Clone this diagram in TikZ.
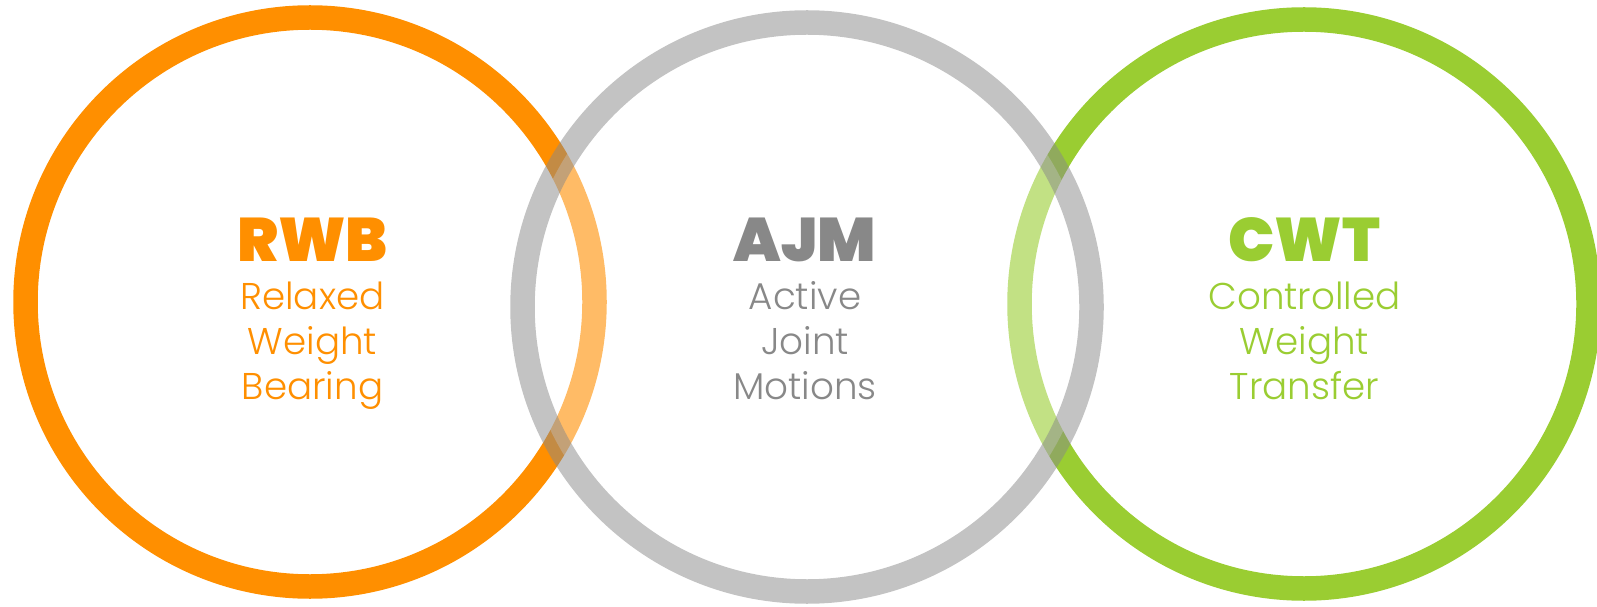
\documentclass[tikz,border=0pt]{standalone}
\usepackage{fontspec}
\usepackage{xcolor}
\newfontfamily\acrofont{Poppins Black}
\newfontfamily\wordfont{Poppins Light}
\definecolor{rwbcol}{RGB}{255,143,0}
\definecolor{ajmcol}{RGB}{136,136,136}
\definecolor{cwtcol}{RGB}{154,205,50}
\tikzset{
    ring/.style={line width=0.245cm},
    acro/.style={anchor=base, inner sep=0pt, font=\acrofont\fontsize{17.5}{20}\selectfont},
    word/.style={anchor=base, inner sep=0pt, font=\wordfont\fontsize{10.6}{12}\selectfont},
}

\begin{document}
\begin{tikzpicture}
    \useasboundingbox (0,0) rectangle (15.97,6.06);
    % outer rings
    \draw[ring, rwbcol] (3.10,3.04) circle (2.845);
    \draw[ring, cwtcol] (13.04,3.02) circle (2.845);
    % middle ring, washes out what it covers
    \fill[white, opacity=0.4] (8.07,2.99) circle (2.845);
    \draw[ring, ajmcol, draw opacity=0.5] (8.07,2.99) circle (2.845);

    \node[acro, rwbcol] (rwb) at (3.125,3.45) {RWB};
    \node[word, rwbcol] (rwb1) at (3.125,2.97) {Relaxed};
    \node[word, rwbcol] (rwb2) at (3.125,2.52) {Weight};
    \node[word, rwbcol] (rwb3) at (3.125,2.07) {Bearing};

    \node[acro, ajmcol] (ajm) at (8.05,3.45) {AJM};
    \node[word, ajmcol] (ajm1) at (8.05,2.97) {Active};
    \node[word, ajmcol] (ajm2) at (8.05,2.52) {Joint};
    \node[word, ajmcol] (ajm3) at (8.05,2.07) {Motions};

    \node[acro, cwtcol] (cwt) at (13.045,3.45) {CWT};
    \node[word, cwtcol] (cwt1) at (13.045,2.97) {Controlled};
    \node[word, cwtcol] (cwt2) at (13.045,2.52) {Weight};
    \node[word, cwtcol] (cwt3) at (13.045,2.07) {Transfer};
\end{tikzpicture}
\end{document}
